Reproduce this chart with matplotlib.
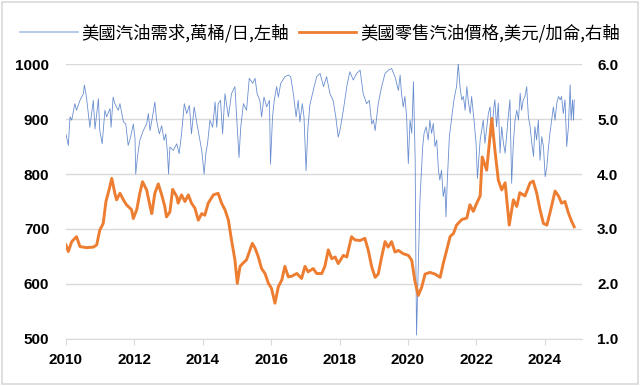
import matplotlib.pyplot as plt
from matplotlib.lines import Line2D
from matplotlib.patches import Rectangle

# weekly US gasoline demand (10k barrels/day)
demand_years = [
    2010.00, 2010.07, 2010.12, 2010.17, 2010.26, 2010.31, 2010.41, 2010.51, 2010.54, 2010.60,
    2010.70, 2010.80, 2010.85, 2010.95, 2010.99, 2011.06, 2011.14, 2011.19, 2011.29, 2011.32,
    2011.38, 2011.43, 2011.53, 2011.58, 2011.68, 2011.75, 2011.82, 2011.89, 2011.97, 2012.02,
    2012.04, 2012.09, 2012.16, 2012.26, 2012.36, 2012.41, 2012.46, 2012.53, 2012.60, 2012.65,
    2012.73, 2012.80, 2012.87, 2012.92, 2012.97, 2013.00, 2013.04, 2013.14, 2013.24, 2013.31,
    2013.38, 2013.46, 2013.53, 2013.61, 2013.67, 2013.75, 2013.82, 2013.90, 2013.97, 2014.04,
    2014.09, 2014.14, 2014.21, 2014.29, 2014.36, 2014.41, 2014.45, 2014.52, 2014.58, 2014.65,
    2014.75, 2014.84, 2014.94, 2014.99, 2015.06, 2015.11, 2015.19, 2015.28, 2015.36, 2015.46,
    2015.53, 2015.59, 2015.67, 2015.72, 2015.79, 2015.87, 2015.95, 2015.98, 2016.04, 2016.09,
    2016.16, 2016.21, 2016.28, 2016.40, 2016.50, 2016.57, 2016.65, 2016.73, 2016.79, 2016.84,
    2016.91, 2016.96, 2017.02, 2017.07, 2017.13, 2017.23, 2017.33, 2017.43, 2017.53, 2017.62,
    2017.72, 2017.81, 2017.89, 2017.96, 2018.01, 2018.11, 2018.21, 2018.30, 2018.40, 2018.50,
    2018.60, 2018.69, 2018.79, 2018.87, 2018.94, 2018.99, 2019.04, 2019.13, 2019.23, 2019.33,
    2019.43, 2019.52, 2019.62, 2019.72, 2019.77, 2019.81, 2019.86, 2019.91, 2019.96, 2020.01,
    2020.06, 2020.11, 2020.16, 2020.21, 2020.23, 2020.25, 2020.28, 2020.32, 2020.35, 2020.38,
    2020.43, 2020.47, 2020.53, 2020.59, 2020.64, 2020.69, 2020.74, 2020.79, 2020.84, 2020.89,
    2020.93, 2020.98, 2021.03, 2021.08, 2021.11, 2021.15, 2021.21, 2021.28, 2021.33, 2021.38,
    2021.42, 2021.47, 2021.52, 2021.57, 2021.62, 2021.67, 2021.72, 2021.77, 2021.82, 2021.86,
    2021.93, 2021.99, 2022.03, 2022.11, 2022.20, 2022.25, 2022.35, 2022.40, 2022.45, 2022.50,
    2022.54, 2022.59, 2022.64, 2022.69, 2022.74, 2022.79, 2022.84, 2022.89, 2022.93, 2022.98,
    2023.03, 2023.08, 2023.13, 2023.18, 2023.23, 2023.28, 2023.32, 2023.37, 2023.42, 2023.47,
    2023.52, 2023.57, 2023.62, 2023.67, 2023.71, 2023.76, 2023.81, 2023.86, 2023.91, 2023.96,
    2024.01, 2024.06, 2024.10, 2024.15, 2024.20, 2024.25, 2024.30, 2024.35, 2024.40, 2024.45,
    2024.49, 2024.54, 2024.59, 2024.64, 2024.69, 2024.74, 2024.77, 2024.81, 2024.84, 2024.86,
]
demand = [
    873, 852, 904, 898, 928, 916, 934, 946, 962, 940,
    885, 934, 882, 937, 879, 855, 916, 904, 919, 885,
    940, 928, 916, 928, 895, 891, 852, 867, 891, 864,
    800, 830, 861, 879, 891, 910, 879, 904, 931, 898,
    873, 888, 861, 873, 837, 800, 849, 843, 855, 837,
    873, 928, 910, 925, 873, 922, 895, 867, 843, 800,
    837, 855, 898, 885, 931, 885, 928, 934, 873, 946,
    904, 946, 959, 904, 830, 885, 928, 916, 974, 965,
    974, 946, 934, 904, 940, 922, 934, 818, 904, 934,
    959, 940, 965, 977, 980, 977, 946, 904, 934, 895,
    928, 904, 806, 879, 925, 952, 977, 983, 959, 977,
    946, 934, 904, 867, 879, 916, 959, 986, 971, 983,
    989, 946, 928, 934, 891, 898, 879, 928, 959, 983,
    989, 992, 977, 952, 980, 947, 922, 941, 904, 819,
    898, 874, 968, 825, 644, 507, 583, 692, 753, 789,
    850, 874, 886, 862, 898, 874, 892, 850, 862, 807,
    789, 807, 759, 777, 722, 789, 868, 904, 929, 947,
    959, 1001, 959, 935, 941, 916, 959, 929, 910, 941,
    898, 856, 792, 862, 898, 856, 910, 922, 868, 916,
    935, 886, 929, 838, 886, 856, 838, 874, 904, 935,
    783, 856, 898, 916, 898, 947, 916, 935, 941, 959,
    904, 886, 856, 832, 886, 862, 898, 825, 868, 850,
    795, 813, 844, 874, 898, 922, 898, 929, 941, 935,
    941, 910, 935, 850, 886, 962, 898, 935, 898, 935,
]

# US retail gasoline price (USD/gallon)
price_years = [
    2010.00, 2010.07, 2010.17, 2010.31, 2010.41, 2010.60, 2010.80, 2010.90, 2010.99, 2011.09,
    2011.17, 2011.26, 2011.34, 2011.43, 2011.48, 2011.58, 2011.68, 2011.77, 2011.92, 2011.97,
    2012.07, 2012.16, 2012.24, 2012.36, 2012.46, 2012.51, 2012.60, 2012.70, 2012.80, 2012.89,
    2012.94, 2013.04, 2013.12, 2013.24, 2013.28, 2013.38, 2013.48, 2013.58, 2013.67, 2013.77,
    2013.87, 2013.97, 2014.06, 2014.16, 2014.31, 2014.45, 2014.55, 2014.65, 2014.75, 2014.84,
    2014.94, 2015.01, 2015.09, 2015.18, 2015.28, 2015.38, 2015.45, 2015.53, 2015.62, 2015.72,
    2015.82, 2015.92, 2016.01, 2016.11, 2016.21, 2016.31, 2016.40, 2016.50, 2016.60, 2016.75,
    2016.89, 2016.99, 2017.08, 2017.23, 2017.33, 2017.48, 2017.57, 2017.67, 2017.77, 2017.87,
    2017.96, 2018.11, 2018.21, 2018.35, 2018.45, 2018.60, 2018.74, 2018.84, 2018.94, 2019.04,
    2019.13, 2019.23, 2019.33, 2019.42, 2019.52, 2019.62, 2019.72, 2019.86, 2020.01, 2020.11,
    2020.20, 2020.30, 2020.40, 2020.50, 2020.64, 2020.79, 2020.94, 2021.03, 2021.13, 2021.23,
    2021.33, 2021.42, 2021.57, 2021.72, 2021.81, 2021.91, 2022.01, 2022.11, 2022.17, 2022.30,
    2022.45, 2022.54, 2022.64, 2022.74, 2022.84, 2022.96, 2023.08, 2023.18, 2023.27, 2023.42,
    2023.57, 2023.66, 2023.76, 2023.86, 2023.96, 2024.06, 2024.15, 2024.30, 2024.40, 2024.49,
    2024.59, 2024.69, 2024.79, 2024.86,
]
price = [
    2.71, 2.59, 2.77, 2.86, 2.68, 2.66, 2.67, 2.71, 2.98, 3.10,
    3.50, 3.71, 3.92, 3.65, 3.53, 3.65, 3.53, 3.44, 3.35, 3.19,
    3.35, 3.65, 3.86, 3.71, 3.41, 3.28, 3.65, 3.82, 3.62, 3.41,
    3.22, 3.31, 3.72, 3.59, 3.47, 3.62, 3.50, 3.62, 3.47, 3.38,
    3.16, 3.28, 3.25, 3.47, 3.62, 3.65, 3.47, 3.35, 3.16, 2.80,
    2.44, 2.01, 2.32, 2.38, 2.44, 2.62, 2.74, 2.65, 2.50, 2.28,
    2.19, 2.01, 1.92, 1.65, 1.95, 2.07, 2.32, 2.13, 2.14, 2.19,
    2.10, 2.32, 2.22, 2.28, 2.19, 2.19, 2.32, 2.62, 2.46, 2.49,
    2.37, 2.52, 2.49, 2.86, 2.80, 2.79, 2.83, 2.61, 2.31, 2.12,
    2.18, 2.49, 2.77, 2.67, 2.77, 2.58, 2.61, 2.55, 2.52, 2.43,
    2.06, 1.79, 1.94, 2.18, 2.21, 2.18, 2.12, 2.37, 2.61, 2.86,
    2.92, 3.07, 3.17, 3.20, 3.44, 3.32, 3.47, 3.60, 4.31, 4.07,
    5.01, 4.44, 3.89, 3.71, 3.84, 3.07, 3.53, 3.41, 3.66, 3.60,
    3.84, 3.87, 3.66, 3.35, 3.10, 3.07, 3.29, 3.69, 3.60, 3.47,
    3.50, 3.29, 3.13, 3.04,
]

label_demand = '美國汽油需求,萬桶/日,左軸'
label_price = '美國零售汽油價格,美元/加侖,右軸'

blue = '#4472C4'
orange = '#ED7D31'
grid_c = '#D9D9D9'

plt.rcParams['font.family'] = ['Liberation Sans', 'Noto Sans CJK TC', 'DejaVu Sans']

fig = plt.figure(figsize=(6.4, 3.86), dpi=100)
ax = fig.add_axes([0.103, 0.122, 0.806, 0.712])
ax2 = ax.twinx()

ax.plot(demand_years, demand, color=blue, lw=0.6, alpha=0.8)
ax2.plot(price_years, price, color=orange, lw=2.1, solid_joinstyle='round')

ax.set_xlim(2010, 2025.08)
ax.set_ylim(500, 1000)
ax2.set_ylim(1.0, 6.0)
ax.set_yticks(range(500, 1001, 100))
ax2.set_yticks([1, 2, 3, 4, 5, 6])
ax2.set_yticklabels([f'{v:.1f}' for v in [1, 2, 3, 4, 5, 6]])
ax.set_xticks(range(2010, 2025, 2))
ax.set_xticklabels([str(y) for y in range(2010, 2025, 2)])

ax.grid(axis='y', color=grid_c, lw=1)
ax.set_axisbelow(True)
for a in (ax, ax2):
    for s in a.spines.values():
        s.set_visible(False)
ax.spines['bottom'].set_visible(True)
ax.spines['bottom'].set_color(grid_c)

ax.tick_params(axis='x', length=4, color=grid_c, pad=6, labelsize=11)
ax.tick_params(axis='y', length=0, pad=12, labelsize=11)
ax2.tick_params(axis='y', length=0, pad=11, labelsize=11)
for lbl in ax.get_xticklabels() + ax.get_yticklabels() + ax2.get_yticklabels():
    lbl.set_fontweight('bold')

handles = [Line2D([], [], color='#A9C0E8', lw=1.2), Line2D([], [], color=orange, lw=2.0)]
fig.legend(handles, [label_demand, label_price], loc='center', bbox_to_anchor=(0.5, 0.915),
           ncol=2, frameon=False, prop={'family': ['Noto Sans CJK TC', 'DejaVu Sans'], 'size': 12.5},
           handlelength=3.3, handletextpad=0.2, columnspacing=0.6)

fig.patches.append(Rectangle((0.003, 0.004), 0.994, 0.992, transform=fig.transFigure,
                             fill=False, edgecolor=grid_c, lw=1.2))

fig.savefig('out.png', dpi=100)
